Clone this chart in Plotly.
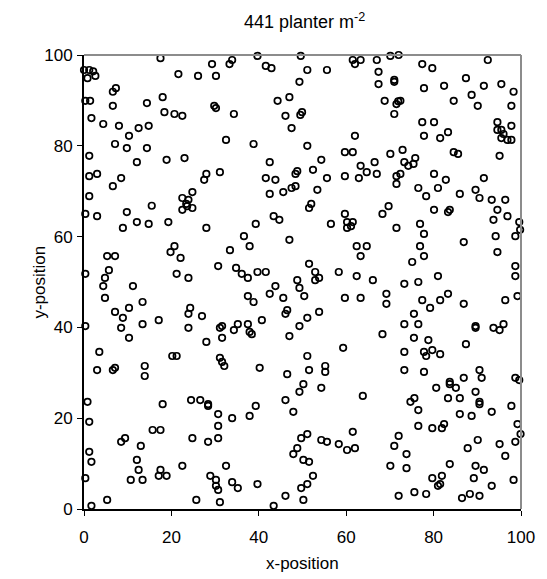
import plotly.graph_objects as go

# Plant positions (x-position, y-position)
x_pos = [
17.5,0.0,1.2,2.1,0.8,2.6,21.6,7.3,6.6,0.3,1.4,14.4,18.0,6.6,18.4,20.7,22.5,1.7,4.4,8.0,12.5,14.8,10.3,7.1,9.8,14.4,1.2,12.1,18.9,23.0,1.2,3.0,8.5,6.6,1.2,15.5,22.5,23.9,24.8,23.4,22.5,23.6,24.8,
39.7,49.6,29.3,33.9,33.3,41.6,42.9,26.1,30.2,49.3,44.3,47.0,29.8,30.2,34.3,46.1,49.9,49.5,47.5,32.5,38.8,42.5,28.0,27.5,31.1,41.6,43.8,48.4,48.8,48.4,47.5,45.6,42.5,
61.5,62.0,63.3,67.0,70.1,72.0,51.1,55.6,67.4,67.4,71.0,71.0,68.8,71.5,71.9,72.4,71.0,62.0,51.1,59.7,61.5,54.3,70.1,72.9,66.5,63.3,73.3,74.2,75.4,75.8,52.4,55.6,59.7,62.9,64.7,67.0,71.5,72.4,71.5,53.4,52.0,51.5,69.7,
77.4,79.7,92.4,77.8,82.4,87.4,91.5,95.5,84.6,88.7,90.1,98.3,97.8,77.4,80.1,77.8,81.5,83.3,94.6,94.6,95.5,97.8,96.0,95.5,96.9,97.8,84.6,85.6,95.1,80.1,82.8,81.0,91.5,76.5,78.3,86.0,89.6,90.5,93.3,96.4,
0.3,3.0,9.8,8.9,12.1,14.8,19.3,5.3,7.1,20.7,19.8,22.1,0.3,5.7,4.8,4.4,11.2,21.2,23.9,4.8,13.4,7.1,10.3,8.9,24.3,23.9,0.3,8.5,13.4,17.1,23.9,10.3,3.5,20.2,21.2,
28.0,39.3,43.4,44.7,36.6,37.9,33.4,47.0,30.7,34.8,36.1,37.5,39.7,41.6,48.8,49.3,43.8,42.5,37.5,38.8,45.6,50.4,46.5,46.1,27.0,31.6,31.1,35.2,34.3,37.5,37.9,38.4,40.7,49.3,47.0,28.0,31.6,31.1,31.6,32.1,
59.7,68.3,56.5,60.2,61.5,61.1,60.2,71.5,62.4,64.7,63.3,51.5,52.9,53.8,52.9,58.3,62.4,66.1,73.3,75.1,59.7,63.3,69.2,69.2,53.8,51.1,75.5,73.3,68.3,75.5,59.3,51.1,73.3,
80.1,83.7,83.3,94.6,93.7,96.9,99.6,99.8,76.9,77.8,86.9,94.2,98.7,76.9,77.8,94.6,98.7,98.7,81.0,76.5,77.4,81.5,83.3,79.2,86.9,96.4,99.2,76.5,89.6,89.6,93.7,95.1,96.0,78.8,87.4,77.8,79.7,78.3,81.5,
3.0,6.6,7.1,13.9,13.9,0.8,18.0,24.5,1.2,15.7,17.5,8.5,9.4,13.0,24.8,1.2,1.7,12.1,12.5,17.5,17.1,18.9,22.5,0.3,10.7,13.4,5.3,1.7,
40.2,46.5,50.2,49.3,26.6,28.4,28.4,30.7,33.9,37.9,39.3,46.1,47.9,30.7,28.4,30.7,49.7,48.8,47.9,50.2,32.5,28.9,30.2,30.2,30.7,33.9,35.2,39.7,25.7,31.1,43.4,46.1,49.7,50.2,
55.2,55.2,51.5,73.3,54.3,63.8,74.7,75.6,61.5,51.1,54.3,55.6,58.3,60.2,62.0,72.0,71.0,73.8,70.1,73.8,51.5,52.4,51.1,72.0,75.6,
77.8,90.5,91.0,86.9,98.7,99.6,80.6,83.7,83.7,85.1,89.6,83.3,86.0,90.5,90.5,97.8,76.5,86.0,88.7,93.3,76.5,79.7,81.9,82.4,99.2,99.9,90.1,87.8,95.1,98.7,96.4,83.7,89.6,91.5,79.7,81.9,81.5,81.0,89.2,93.3,98.3,78.3,86.5,88.3,90.5,
]
y_pos = [
99.3,96.7,96.7,96.4,94.9,95.4,95.8,92.7,91.9,89.9,89.9,89.4,90.7,88.8,87.4,87.0,86.6,86.1,84.8,84.4,83.9,84.4,82.2,80.4,79.5,79.5,77.8,76.4,76.9,77.3,73.3,73.8,72.9,71.1,68.9,66.8,68.5,68.1,69.8,67.2,65.9,66.7,66.3,
99.8,99.8,98.0,98.9,98.0,97.6,97.1,95.4,95.4,94.1,89.9,90.7,88.8,88.3,87.0,86.6,87.4,86.8,83.9,81.3,80.4,76.4,73.8,72.5,74.2,72.9,72.5,73.8,74.4,71.1,70.7,69.8,69.4,
98.9,98.0,98.9,98.9,99.8,100.0,96.7,96.7,96.3,93.6,94.5,94.1,89.9,89.2,89.8,89.9,87.0,82.2,80.0,78.6,78.6,76.9,78.2,79.1,76.4,75.6,76.4,75.6,76.0,77.3,74.7,72.9,73.3,72.9,74.2,73.8,73.3,73.8,71.6,70.3,67.2,66.3,66.7,
98.0,97.1,98.9,92.7,93.2,94.9,93.2,93.6,89.9,91.2,88.8,91.9,88.8,85.2,85.2,82.2,81.7,83.0,85.2,83.5,83.5,84.4,82.6,81.7,81.3,81.3,78.6,78.2,77.8,73.8,72.5,70.7,72.9,70.7,68.9,69.4,70.3,68.5,68.1,68.1,
65.0,64.5,65.4,61.9,63.2,62.8,63.2,55.7,55.7,57.9,56.6,55.3,51.8,52.6,50.9,49.1,49.1,51.8,50.9,46.5,45.6,43.4,44.3,42.1,44.3,43.0,40.3,39.9,40.7,41.6,39.9,37.7,34.6,33.7,33.7,
61.9,62.8,64.5,63.7,60.1,57.9,57.0,59.3,53.5,53.1,51.8,50.9,52.2,52.2,50.4,48.7,49.1,47.4,46.9,45.6,46.5,46.9,43.8,43.0,42.5,40.3,39.9,40.7,39.4,40.7,39.0,38.5,41.6,40.3,38.1,36.8,37.7,33.3,32.4,31.5,
65.0,65.0,62.8,63.2,63.2,62.3,61.9,61.9,57.9,57.9,55.7,54.0,52.2,50.9,50.4,52.2,51.3,50.4,49.6,54.4,46.5,46.5,47.4,45.2,43.4,42.1,43.0,40.7,38.5,37.7,35.5,33.7,34.6,
65.9,65.9,65.4,65.9,63.7,64.5,63.2,61.5,62.8,60.6,58.8,60.1,60.1,57.9,55.7,56.6,53.5,51.3,51.3,50.0,46.0,46.0,47.4,44.3,45.2,46.0,46.9,40.7,40.3,39.9,39.9,39.4,40.7,37.2,36.3,34.6,35.0,33.7,34.1,
30.6,30.6,31.1,31.5,29.3,23.6,23.1,24.0,19.2,17.4,17.4,14.8,15.6,13.9,15.6,12.6,10.4,10.8,8.6,8.6,7.3,7.3,9.5,6.8,6.4,6.4,2.0,0.7,
31.1,29.7,27.5,25.8,24.0,23.1,22.7,20.9,20.0,20.5,22.7,24.0,21.4,18.3,14.8,15.6,15.6,13.4,12.1,10.8,9.5,7.3,6.4,5.1,4.2,5.9,4.6,5.5,2.0,1.5,0.7,2.9,4.6,2.0,
31.5,30.2,30.6,30.6,26.7,24.9,23.6,24.4,17.0,16.5,15.2,14.8,14.3,13.0,13.4,16.1,13.9,12.1,9.5,9.0,10.4,7.3,5.5,2.9,3.7,
30.2,30.6,28.9,28.9,28.9,28.4,26.7,28.0,27.5,26.7,25.8,24.4,24.4,23.6,23.1,22.7,21.8,20.9,20.5,21.4,18.3,17.8,17.8,18.7,18.7,16.5,15.2,13.4,14.3,14.8,11.7,9.9,9.5,8.6,6.8,7.3,5.5,5.1,6.8,5.1,6.4,3.3,2.4,3.3,2.9,
]

x_ticks = [0, 20, 40, 60, 80, 100]
y_ticks = [0, 20, 40, 60, 80, 100]
title_text = "441 planter m<sup>-2</sup>"
x_title = "x-position"
y_title = "y-position"

fig = go.Figure()
fig.add_trace(go.Scatter(
    x=x_pos, y=y_pos, mode="markers",
    marker=dict(symbol="circle-open", size=6.5, color="black", line=dict(width=1.7, color="black")),
    cliponaxis=False, hoverinfo="x+y", showlegend=False,
))

FAM = "Liberation Sans, Arial, sans-serif"
font = dict(family=FAM, size=17, color="black")
title_font = dict(family=FAM, size=18, color="black")

fig.update_layout(
    width=547, height=579,
    margin=dict(l=84, r=22, t=55, b=70),
    paper_bgcolor="white", plot_bgcolor="white",
    font=font,
    title=dict(text=title_text, x=0.557, xanchor="center", y=0.962, yanchor="middle", font=title_font),
    shapes=[
        dict(type="line", xref="paper", yref="paper", x0=0, x1=1, y0=1, y1=1,
             line=dict(color="#8c8c8c", width=2)),
        dict(type="line", xref="paper", yref="paper", x0=1, x1=1, y0=0, y1=1,
             line=dict(color="#8c8c8c", width=2)),
    ],
    annotations=[
        dict(text=x_title, xref="paper", yref="paper", x=0.5, y=-0.119,
             xanchor="center", yanchor="middle", showarrow=False, font=font),
        dict(text=y_title, xref="paper", yref="paper", x=-0.104, y=0.5,
             xanchor="center", yanchor="middle", showarrow=False, textangle=-90, font=font),
    ],
)
fig.update_xaxes(
    range=[0, 100], tickvals=x_ticks, ticktext=[str(v) for v in x_ticks],
    showgrid=False, zeroline=False, showline=True, linecolor="black", linewidth=2,
    ticks="outside", ticklen=5, tickwidth=1, tickcolor="black", ticklabelstandoff=7,
    tickfont=font,
)
fig.update_yaxes(
    range=[0, 100], tickvals=y_ticks, ticktext=[str(v) for v in y_ticks],
    showgrid=False, zeroline=False, showline=True, linecolor="black", linewidth=2,
    ticks="outside", ticklen=5, tickwidth=1, tickcolor="black", ticklabelstandoff=1,
    tickfont=font,
)

fig.write_html("out.html")
